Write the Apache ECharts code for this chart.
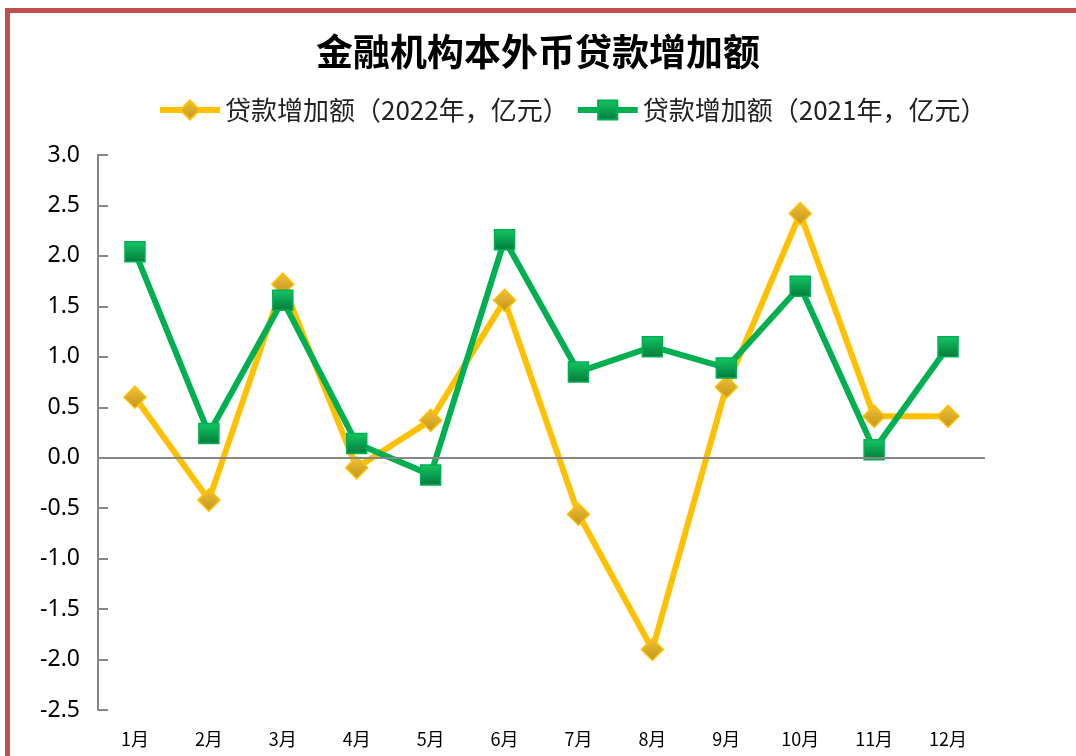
<!DOCTYPE html>
<html>
<head>
<meta charset="utf-8">
<script src="https://cdn.jsdelivr.net/npm/echarts@6/dist/echarts.min.js"></script>
<style>
  html, body { margin: 0; padding: 0; background: #fff; }
  #chart { width: 1076px; height: 756px; }
</style>
</head>
<body>
<div id="chart"></div>
<script>
var months = ['1月', '2月', '3月', '4月', '5月', '6月', '7月', '8月', '9月', '10月', '11月', '12月'];
var loan2022 = [0.60, -0.42, 1.72, -0.10, 0.37, 1.56, -0.56, -1.90, 0.70, 2.42, 0.41, 0.41];
var loan2021 = [2.04, 0.24, 1.56, 0.14, -0.17, 2.16, 0.85, 1.10, 0.89, 1.70, 0.08, 1.10];

var chart = echarts.init(document.getElementById('chart'));

// 标记渐变色
var diamondFill = new echarts.graphic.LinearGradient(0, 0, 0, 1, [
    { offset: 0, color: '#f2c23a' },
    { offset: 1, color: '#c29418' }
]);
var squareFill = new echarts.graphic.LinearGradient(0, 0, 0, 1, [
    { offset: 0, color: '#16c766' },
    { offset: 1, color: '#007a3a' }
]);

var option = {
    backgroundColor: '#fff',
    animation: false,
    title: {
        text: '金融机构本外币贷款增加额',
        left: 'center',
        top: 28,
        textStyle: {
            fontFamily: 'Noto Sans CJK SC',
            fontSize: 37,
            fontWeight: 'bold',
            color: '#000'
        }
    },
    legend: {
        left: 152,
        top: 92,
        itemWidth: 60,
        itemHeight: 24,
        itemGap: 6,
        lineStyle: { width: 6 },
        textStyle: {
            fontFamily: 'Noto Sans CJK SC',
            fontSize: 26,
            color: '#222'
        },
        data: ['贷款增加额（2022年，亿元）', '贷款增加额（2021年，亿元）']
    },
    graphic: [{
        type: 'rect',
        shape: { x: 7.5, y: 10.5, width: 2000, height: 2000 },
        style: { fill: 'none', stroke: '#c0504d', lineWidth: 5 },
        silent: true
    }],
    grid: {
        left: 98,
        right: 91,
        top: 155,
        bottom: 46
    },
    xAxis: {
        type: 'category',
        data: months,
        boundaryGap: true,
        axisLine: { show: false },
        axisTick: { show: false },
        axisLabel: {
            margin: 20,
            fontFamily: 'Noto Sans CJK SC',
            fontSize: 18,
            color: '#000'
        },
        splitLine: { show: false }
    },
    yAxis: {
        type: 'value',
        min: -2.5,
        max: 3.0,
        interval: 0.5,
        axisLine: { show: true, lineStyle: { color: '#868686', width: 2 } },
        axisTick: { show: true, inside: true, length: 10, lineStyle: { color: '#868686', width: 2 } },
        axisLabel: {
            margin: 18,
            fontFamily: 'Noto Sans',
            fontSize: 23,
            color: '#000',
            formatter: function (v) { return v.toFixed(1); }
        },
        splitLine: { show: false }
    },
    series: [{
        name: '贷款增加额（2022年，亿元）',
        type: 'line',
        data: loan2022,
        symbol: 'diamond',
        symbolSize: 22,
        lineStyle: { color: '#ffc000', width: 6 },
        itemStyle: { color: diamondFill, borderColor: '#ffc000', borderWidth: 1.5 },
        z: 3,
        markLine: {
            silent: true,
            symbol: 'none',
            label: { show: false },
            lineStyle: { color: '#868686', width: 2, type: 'solid' },
            data: [{ yAxis: 0 }]
        }
    }, {
        name: '贷款增加额（2021年，亿元）',
        type: 'line',
        data: loan2021,
        symbol: 'rect',
        symbolSize: 20,
        lineStyle: { color: '#00b050', width: 6 },
        itemStyle: { color: squareFill, borderColor: '#00b050', borderWidth: 1.5 },
        z: 4
    }]
};

chart.setOption(option);
</script>
</body>
</html>
